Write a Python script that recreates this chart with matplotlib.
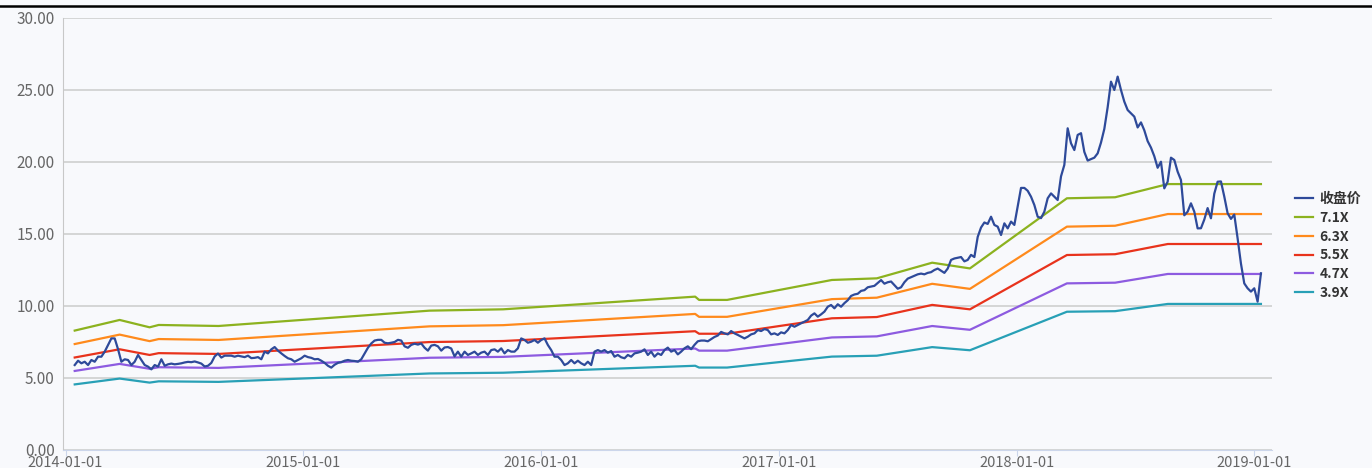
import numpy as np
import pandas as pd
import matplotlib
matplotlib.use('Agg')
import matplotlib.pyplot as plt
import matplotlib.dates as mdates
from matplotlib.lines import Line2D

plt.rcParams['font.family'] = ['Noto Sans CJK SC', 'DejaVu Sans']

# closing price at an even step (~5 days)
close_start = '2014-01-15'
close_end = '2019-01-11'
close = [
    # 2014
    5.90, 6.20, 6.02, 6.13, 5.90, 6.25, 6.13, 6.48, 6.48, 6.83, 7.29, 7.75, 7.75, 7.00, 6.13,
    6.30, 6.25, 5.90, 6.13, 6.60, 6.25, 5.90, 5.79, 5.60, 5.90, 5.79, 6.30, 5.85, 5.95, 6.00,
    5.95, 5.98, 6.02, 6.08, 6.12, 6.10, 6.15, 6.08, 6.00, 5.80, 5.85, 6.05, 6.50, 6.70, 6.42,
    6.55, 6.55, 6.55, 6.48, 6.55, 6.50, 6.45, 6.55, 6.38, 6.40, 6.45, 6.30,
    # late 2014 - 2015
    6.83, 6.71, 6.99, 7.15, 6.90, 6.71, 6.53, 6.37, 6.30, 6.13, 6.25, 6.37, 6.55, 6.45, 6.40,
    6.30, 6.32, 6.20, 6.05, 5.85, 5.72, 5.92, 6.05, 6.10, 6.20, 6.25, 6.20, 6.18, 6.13, 6.30,
    6.70, 7.10, 7.40, 7.60, 7.65, 7.65, 7.45, 7.41, 7.45, 7.50, 7.65, 7.60, 7.20, 7.10, 7.30,
    7.38, 7.32, 7.40, 7.10, 6.90, 7.25, 7.30, 7.20, 6.90, 7.12, 7.15, 7.05,
    # late 2015 - 2016
    6.50, 6.83, 6.48, 6.83, 6.60, 6.71, 6.83, 6.60, 6.76, 6.83, 6.60, 6.94, 6.99, 6.83, 7.06,
    6.71, 6.94, 6.83, 6.83, 7.06, 7.75, 7.64, 7.45, 7.52, 7.64, 7.45, 7.64, 7.75, 7.29, 6.94,
    6.48, 6.48, 6.25, 5.90, 6.02, 6.25, 6.02, 6.20, 6.02, 5.90, 6.13, 5.90, 6.83, 6.94, 6.83,
    6.94, 6.76, 6.87, 6.48, 6.60, 6.44, 6.37, 6.60, 6.48, 6.71, 6.76, 6.83, 6.99, 6.60,
    # mid 2016 - 2017
    6.83, 6.48, 6.71, 6.60, 6.94, 7.11, 6.83, 6.94, 6.64, 6.83, 7.06, 7.20, 7.00, 7.30, 7.55,
    7.60, 7.60, 7.55, 7.70, 7.85, 7.95, 8.20, 8.10, 8.03, 8.26, 8.10, 7.99, 7.87, 7.75, 7.87,
    8.03, 8.10, 8.33, 8.26, 8.40, 8.33, 8.03, 8.10, 7.99, 8.17, 8.10, 8.33, 8.68, 8.56, 8.68,
    8.80, 8.91, 9.03, 9.33, 9.49, 9.26, 9.42, 9.61, 9.95, 10.07, 9.84, 10.12, 9.95,
    # mid 2017 - early 2018
    10.20, 10.40, 10.70, 10.80, 10.85, 11.05, 11.10, 11.30, 11.35, 11.40, 11.60, 11.80, 11.55, 11.65, 11.70,
    11.45, 11.20, 11.30, 11.65, 11.90, 12.00, 12.10, 12.20, 12.25, 12.20, 12.30, 12.35, 12.50, 12.60, 12.45,
    12.30, 12.60, 13.20, 13.30, 13.35, 13.40, 13.10, 13.20, 13.55, 13.40, 14.80, 15.45, 15.80, 15.70, 16.20,
    15.63, 15.51, 14.93, 15.74, 15.39, 15.86, 15.63, 16.90, 18.20, 18.20, 18.00, 17.59, 17.01, 16.20,
    # 2018
    16.10, 16.55, 17.48, 17.82, 17.59, 17.36, 19.00, 19.80, 22.34, 21.30, 20.83, 21.88, 22.00, 20.70, 20.10,
    20.20, 20.30, 20.60, 21.35, 22.30, 23.80, 25.58, 25.00, 25.93, 25.00, 24.19, 23.61, 23.38, 23.15, 22.40,
    22.75, 22.20, 21.45, 21.00, 20.40, 19.60, 20.02, 18.17, 18.63, 20.30, 20.14, 19.33, 18.75, 16.30, 16.55,
    17.13, 16.55, 15.39, 15.40, 16.00, 16.80, 16.09, 17.80, 18.63, 18.65, 17.60, 16.44, 16.05, 16.35, 14.70,
    12.95, 11.57, 11.23, 11.00, 11.23, 10.30, 12.27,
]

# EPS used for the PE band, at the dates where its slope changes
eps_dates = ['2014-01-15', '2014-03-25', '2014-05-10', '2014-05-24', '2014-08-24',
             '2015-07-14', '2015-11-04', '2016-08-25', '2016-08-31', '2016-10-13',
             '2017-03-23', '2017-05-31', '2017-08-24', '2017-10-21', '2018-03-19',
             '2018-06-01', '2018-08-21', '2019-01-11']
eps = [1.168, 1.272, 1.200, 1.223, 1.213,
       1.363, 1.376, 1.500, 1.468, 1.468,
       1.663, 1.679, 1.832, 1.776, 2.462,
       2.472, 2.601, 2.601]

pe_multiples = [7.1, 6.3, 5.5, 4.7, 3.9]
band_labels = ['7.1X', '6.3X', '5.5X', '4.7X', '3.9X']
band_colors = ['#8cb21f', '#ff8a1c', '#e8331c', '#8d5be0', '#28a0b6']

close_dates = pd.date_range(close_start, close_end, periods=len(close))
eps_dt = pd.to_datetime(eps_dates)

bg = '#f8f9fc'
fig = plt.figure(figsize=(13.72, 4.68), dpi=100, facecolor=bg)
ax = fig.add_axes([63 / 1372, 1 - 450 / 468, (1272 - 63) / 1372, (450 - 18) / 468])
ax.set_facecolor(bg)

ax.plot(close_dates, close, color='#2e4a9a', lw=1.6, label='收盘价', zorder=5)
for m, lab, c in zip(pe_multiples, band_labels, band_colors):
    ax.plot(eps_dt, np.array(eps) * m, color=c, lw=1.6, label=lab, zorder=4)

ax.set_ylim(0, 30)
ax.set_yticks(np.arange(0, 31, 5))
ax.yaxis.set_major_formatter(matplotlib.ticker.FormatStrFormatter('%.2f'))
ax.set_xlim(pd.Timestamp('2013-12-28'), pd.Timestamp('2019-01-28'))
ax.set_xticks(pd.to_datetime(['2014-01-01', '2015-01-01', '2016-01-01',
                              '2017-01-01', '2018-01-01', '2019-01-01']))
ax.xaxis.set_major_formatter(mdates.DateFormatter('%Y-%m-%d'))

ax.grid(axis='y', color='#cfcfcf', lw=1.2)
ax.set_axisbelow(True)
for s in ['top', 'right']:
    ax.spines[s].set_visible(False)
ax.spines['left'].set_color('#c8c8c8')
ax.spines['bottom'].set_color('#ccd6eb')
ax.tick_params(axis='y', length=0, labelsize=11, labelcolor='#666666', pad=6)
ax.tick_params(axis='x', length=4, color='#ccd6eb', labelsize=10.5, labelcolor='#666666', pad=0)

fig.legend(loc='center left', bbox_to_anchor=(1282 / 1372, 1 - 246 / 468), frameon=False,
           prop={'weight': 'bold', 'size': 10}, labelcolor='#333333',
           handlelength=1.3, handletextpad=0.5, labelspacing=0.35)

fig.add_artist(Line2D([0, 1], [1 - 6 / 468, 1 - 6 / 468], color='black', lw=1.8,
                      transform=fig.transFigure))

fig.savefig('out.png', dpi=100, facecolor=bg)
